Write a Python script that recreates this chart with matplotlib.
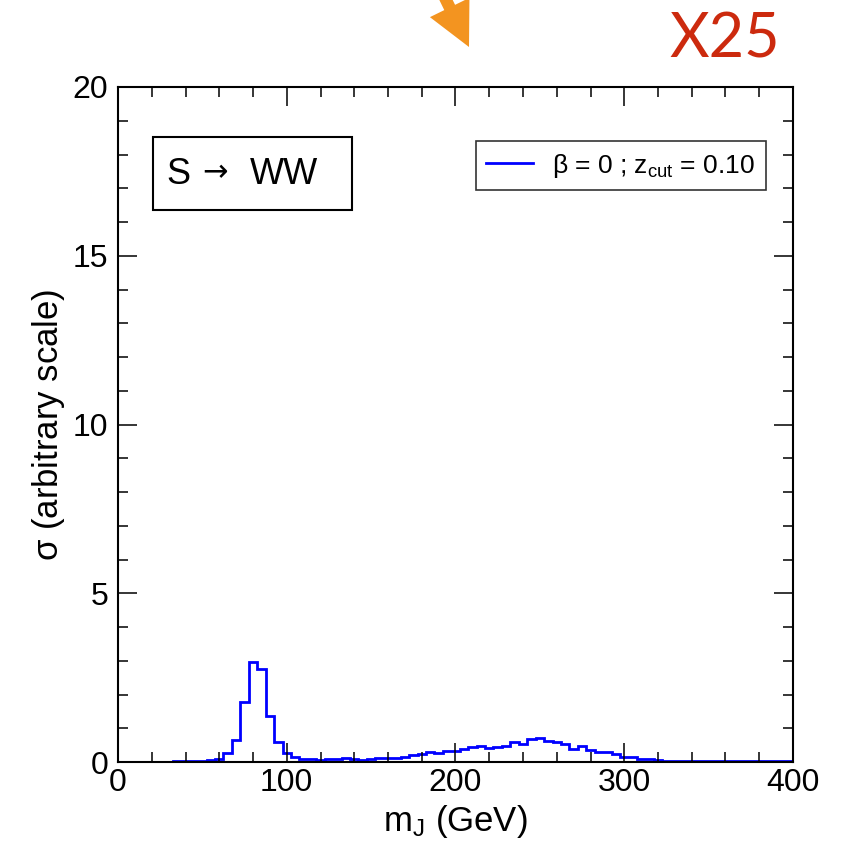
import numpy as np
import matplotlib.pyplot as plt
from matplotlib.patches import Polygon, Rectangle
from matplotlib.transforms import IdentityTransform

plt.rcParams['font.family'] = ['Liberation Sans', 'DejaVu Sans']
plt.rcParams['mathtext.fontset'] = 'custom'
plt.rcParams['mathtext.rm'] = 'Liberation Sans'
plt.rcParams['mathtext.it'] = 'Liberation Sans'

# histogram of jet mass, 5 GeV bins (bin centres 35 ... 400)
bin_centres = np.arange(35, 401, 5)
sigma = [
    0.02, 0.02, 0.02, 0.03, 0.05, 0.08, 0.26, 0.65, 1.77, 2.96,   # 35-80
    2.76, 1.37, 0.59, 0.26, 0.14, 0.10, 0.08, 0.07, 0.08, 0.10,   # 85-130
    0.11, 0.09, 0.07, 0.09, 0.11, 0.11, 0.13, 0.15, 0.20, 0.25,   # 135-180
    0.30, 0.28, 0.32, 0.34, 0.40, 0.43, 0.46, 0.41, 0.45, 0.48,   # 185-230
    0.58, 0.53, 0.68, 0.71, 0.63, 0.58, 0.53, 0.40, 0.46, 0.37,   # 235-280
    0.31, 0.31, 0.24, 0.14, 0.14, 0.08, 0.08, 0.05, 0.04, 0.04,   # 285-330
    0.04, 0.04, 0.02, 0.02, 0.02, 0.02, 0.02, 0.02, 0.02, 0.02,   # 335-380
    0.02, 0.02, 0.02, 0.02,                                       # 385-400
]
bin_edges = np.append(bin_centres - 2.5, bin_centres[-1] + 2.5)

W, H = 850, 843
fig = plt.figure(figsize=(W / 100, H / 100), dpi=100)
ax = fig.add_axes([118 / W, 1 - 762 / H, 675 / W, 675 / H])

ax.stairs(sigma, bin_edges, color='#0000ff', linewidth=2.0,
          label=r'$\beta$ = 0 ; z$_{\mathrm{cut}}$ = 0.10')

ax.set_xlim(0, 400)
ax.set_ylim(0, 20)
ax.set_xticks([0, 100, 200, 300, 400])
ax.set_xticks(np.arange(0, 401, 20), minor=True)
ax.set_yticks([0, 5, 10, 15, 20])
ax.set_yticks(np.arange(0, 21, 1), minor=True)
ax.tick_params(which='both', direction='in', top=True, right=True, width=1.1,
               labelsize=23)
ax.tick_params(axis='y', pad=7)
ax.tick_params(axis='x', pad=4)
ax.tick_params(which='major', length=14)
ax.tick_params(which='minor', length=7)
for s in ax.spines.values():
    s.set_linewidth(1.5)

ax.set_xlabel(r'm$_{\mathrm{J}}$ (GeV)', fontsize=25, labelpad=4)
ax.set_ylabel(r'$\sigma$ (arbitrary scale)', fontsize=25, labelpad=4)

leg = ax.legend(loc='upper right', bbox_to_anchor=(0.96, 0.92), fontsize=19,
                frameon=True, fancybox=False, edgecolor='black',
                handlelength=1.75, borderpad=0.4, handletextpad=0.75,
                borderaxespad=0)
leg.get_frame().set_linewidth(1.2)

# process label in its own box
ax.add_patch(Rectangle((0.052, 0.818), 0.295, 0.108, transform=ax.transAxes,
                       facecolor='white', edgecolor='black', linewidth=1.5,
                       zorder=4))
ax.text(0.072, 0.871, 'S', transform=ax.transAxes, fontsize=26,
        va='center', ha='left', zorder=5)
ax.text(0.125, 0.873, '\u2192', transform=ax.transAxes, fontsize=22,
        family='DejaVu Sans', va='center', ha='left', zorder=5)
ax.text(0.196, 0.871, 'WW', transform=ax.transAxes, fontsize=26,
        va='center', ha='left', zorder=5)

# red scale factor at the top right
fig.text(725 / W, 1 - 40 / H, 'X25', color='#cc2a0e', fontsize=44,
         family='Lato', ha='center', va='center')

# orange arrow coming in from the top, pixel geometry
tip = np.array([469.0, 47.0])
d = np.array([0.44, 0.90]); d /= np.linalg.norm(d)
n = np.array([d[1], -d[0]])
base = tip - 44 * d
pts = [tip, base + 22 * n, base + 6 * n, base + 6 * n - 60 * d,
       base - 6 * n - 60 * d, base - 6 * n, base - 22 * n]
pts = [(p[0], H - p[1]) for p in pts]
fig.patches.append(Polygon(pts, closed=True, facecolor='#f39420',
                           edgecolor='none', transform=IdentityTransform()))

fig.savefig('out.png', dpi=100)
